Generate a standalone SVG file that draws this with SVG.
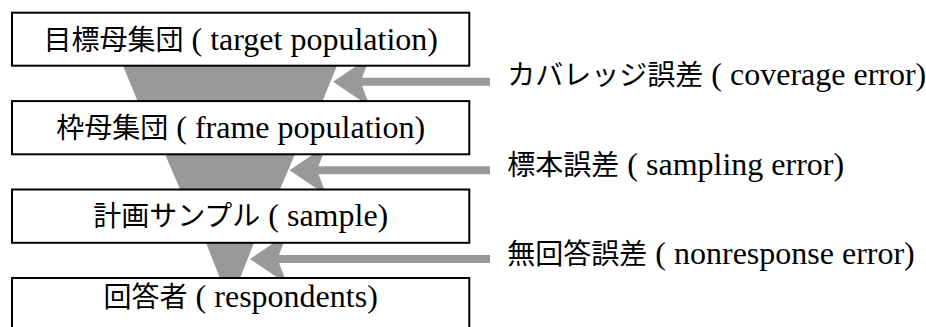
<svg xmlns="http://www.w3.org/2000/svg" width="926" height="327" viewBox="0 0 926 327">
<defs>
<style>
.box{fill:#fff;stroke:#000;stroke-width:2}
.fun{fill:#999}
.shaft{stroke:#999;stroke-width:8;fill:none}
.head{fill:#999}
.t{font-size:28px;fill:#000}
.jp{font-family:"Noto Sans CJK JP","Noto Sans",sans-serif}
.en{font-family:"Liberation Serif","Times New Roman",serif;font-size:32px}
</style>
<polygon id="ah" class="head" points="0,0 37,-25 29,-4 29,4 37,25"/>
</defs>
<g id="funnels">
<polygon class="fun" points="120.7,60 339.3,60 320.5,106 139.5,106"/>
<polygon class="fun" points="163.2,150 296.8,150 277.5,195 182.5,195"/>
<polygon class="fun" points="204.2,238 255.8,238 238.2,283 221.8,283"/>
</g>
<g id="connectors">
<line class="shaft" x1="360" y1="81.7" x2="490" y2="81.7"/>
<use href="#ah" x="333" y="81.7"/>
<line class="shaft" x1="316" y1="170.3" x2="490" y2="170.3"/>
<use href="#ah" x="289.5" y="170.3"/>
<line class="shaft" x1="277" y1="259" x2="490" y2="259"/>
<use href="#ah" x="250" y="259"/>
</g>
<g id="target">
<rect class="box" x="12" y="12.7" width="457.3" height="53"/>
<text class="t" x="240.7" y="50" text-anchor="middle"><tspan class="jp">目標母集団</tspan><tspan class="en"> ( target population)</tspan></text>
</g>
<g id="frame">
<rect class="box" x="12" y="101.1" width="457.3" height="53.2"/>
<text class="t" x="240.7" y="137.5" text-anchor="middle"><tspan class="jp">枠母集団</tspan><tspan class="en"> ( frame population)</tspan></text>
</g>
<g id="sample">
<rect class="box" x="12" y="189.5" width="457.3" height="53.3"/>
<text class="t" x="240.7" y="226" text-anchor="middle"><tspan class="jp">計画サンプル</tspan><tspan class="en"> ( sample)</tspan></text>
</g>
<g id="respondents">
<rect class="box" x="12" y="278" width="457.3" height="60"/>
<text class="t" x="240.7" y="307" text-anchor="middle"><tspan class="jp">回答者</tspan><tspan class="en"> ( respondents)</tspan></text>
</g>
<g id="label-coverage">
<text class="t" x="507.3" y="85"><tspan class="jp">カバレッジ誤差</tspan><tspan class="en"> ( coverage error)</tspan></text>
</g>
<g id="label-sampling">
<text class="t" x="507.3" y="174.5"><tspan class="jp">標本誤差</tspan><tspan class="en"> ( sampling error)</tspan></text>
</g>
<g id="label-nonresponse">
<text class="t" x="507.3" y="263.5"><tspan class="jp">無回答誤差</tspan><tspan class="en"> ( nonresponse error)</tspan></text>
</g>
</svg>
